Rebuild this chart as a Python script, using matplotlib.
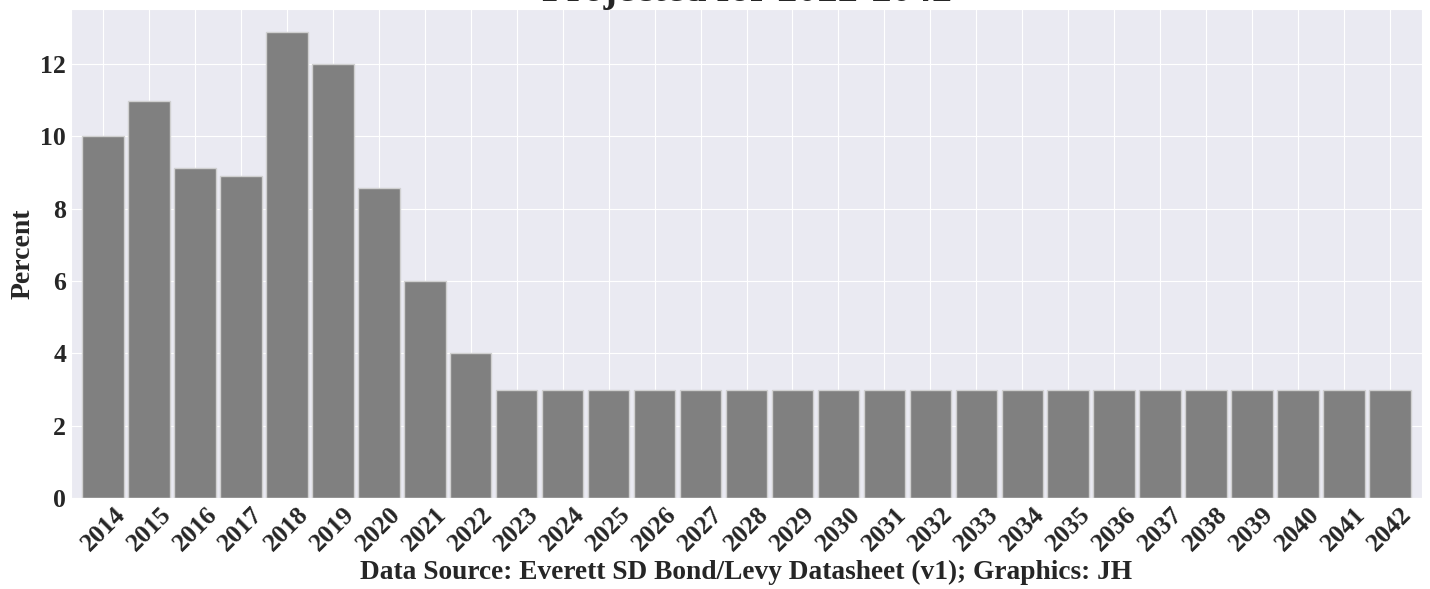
import matplotlib
matplotlib.use("Agg")
import matplotlib.pyplot as plt
import seaborn as sns
import numpy as np

years = [str(y) for y in range(2014, 2043)]
percent = [10.0, 10.97, 9.14, 8.9, 12.88, 12.0, 8.58, 6.0, 4.0] + [3.0] * 20

sns.set_style("darkgrid")
plt.rcParams['font.family'] = ['Liberation Serif', 'DejaVu Serif']
plt.rcParams['font.weight'] = 'bold'

fig = plt.figure(figsize=(14.3, 5.89), dpi=100)
ax = fig.add_axes([71/1430, 91/589, (1422-71)/1430, (498-9)/589])

x = np.arange(len(years))
ax.bar(x, percent, width=0.9, color='#808080', edgecolor='#d0d0d0', linewidth=1.0, zorder=2)
ax.set_xticks(x)
ax.set_xticklabels(years, rotation=45, fontsize=18.5, fontweight='bold')
ax.set_xlim(-0.7, 28.7)
ax.set_ylim(0, max(percent) * 1.05)
ax.set_yticks([0, 2, 4, 6, 8, 10, 12])
ax.tick_params(axis='y', labelsize=18.5, pad=0)
for lab in ax.get_yticklabels():
    lab.set_fontweight('bold')
ax.tick_params(axis='x', pad=0)
ax.set_ylabel('Percent', fontsize=20, fontweight='bold', labelpad=3.5)
ax.set_xlabel('Data Source: Everett SD Bond/Levy Datasheet (v1); Graphics: JH', fontsize=19.7, fontweight='bold', labelpad=3)

fig.text((71+1422)/2/1430, 1 - 0.5/589, 'Projected for 2022-2042', ha='center', va='baseline',
         fontsize=29, fontweight='bold')

fig.savefig('out.png', dpi=100)
